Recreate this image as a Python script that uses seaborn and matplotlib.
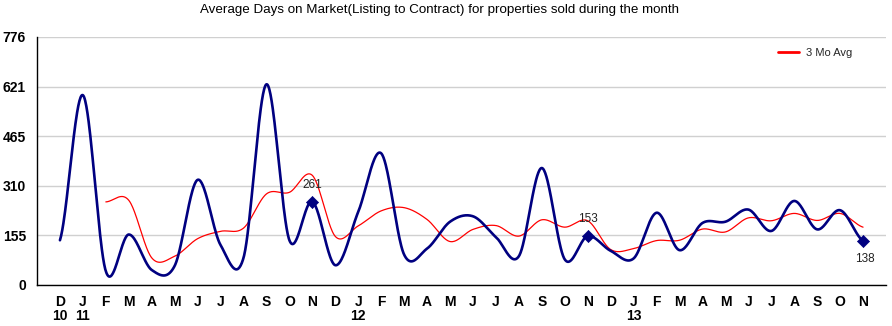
import numpy as np
import pandas as pd
import matplotlib
matplotlib.use("Agg")
import matplotlib.pyplot as plt
from matplotlib.lines import Line2D
import seaborn as sns

# ---- data (Dec 2010 .. Nov 2013) ----
month_labels = ["D", "J", "F", "M", "A", "M", "J", "J", "A", "S", "O", "N",
                "D", "J", "F", "M", "A", "M", "J", "J", "A", "S", "O", "N",
                "D", "J", "F", "M", "A", "M", "J", "J", "A", "S", "O", "N"]
year_labels = {0: "10", 1: "11", 13: "12", 25: "13"}

days_on_market = [140, 594, 43, 158, 47, 60, 329, 125, 85, 628, 140, 261,
                  62, 229, 412, 95, 114, 198, 215, 150, 90, 366, 80, 153,
                  107, 83, 226, 109, 194, 198, 236, 169, 263, 174, 234, 138]

# 3-month average, starting at the third month (Feb 2011)
avg_start = 2
avg_3mo = [260, 265, 85, 90, 145, 168, 178, 285, 290, 343,
           152, 185, 232, 242, 205, 136, 174, 186, 153, 204,
           181, 201, 111, 114, 139, 140, 175, 166, 210, 201,
           224, 202, 224, 181]

labeled_idx = [11, 23, 35]
y_ticks = [0, 155, 310, 465, 621, 776]

title = "Average Days on Market(Listing to Contract) for properties sold during the month"


def catmull_rom(xs, ys, n=40):
    xs = np.asarray(xs, float)
    ys = np.asarray(ys, float)
    p = np.concatenate([[ys[0]], ys, [ys[-1]]])
    out_x, out_y = [], []
    for i in range(len(ys) - 1):
        p0, p1, p2, p3 = p[i], p[i + 1], p[i + 2], p[i + 3]
        m1 = (p2 - p0) / 2.0
        m2 = (p3 - p1) / 2.0
        t = np.linspace(0, 1, n, endpoint=(i == len(ys) - 2))
        h00 = 2 * t**3 - 3 * t**2 + 1
        h10 = t**3 - 2 * t**2 + t
        h01 = -2 * t**3 + 3 * t**2
        h11 = t**3 - t**2
        out_y.append(h00 * p1 + h10 * m1 + h01 * p2 + h11 * m2)
        out_x.append(xs[i] + t * (xs[i + 1] - xs[i]))
    return np.concatenate(out_x), np.concatenate(out_y)


x_idx = np.arange(len(days_on_market))
bx, by = catmull_rom(x_idx, days_on_market)
rx, ry = catmull_rom(np.arange(avg_start, avg_start + len(avg_3mo)), avg_3mo)
df_blue = pd.DataFrame({"x": bx, "y": by})
df_red = pd.DataFrame({"x": rx, "y": ry})
df_pts = pd.DataFrame({"x": labeled_idx, "y": [days_on_market[i] for i in labeled_idx]})

sns.set_style("white")
plt.rcParams["font.family"] = ["Liberation Sans", "DejaVu Sans"]

W, H = 892, 326
fig = plt.figure(figsize=(W / 100, H / 100), dpi=100)
ax = fig.add_axes([37 / W, 1 - 285 / H, (886 - 37) / W, (285 - 37) / H])

sns.lineplot(data=df_red, x="x", y="y", ax=ax, color="#ff0000", linewidth=0.9,
             sort=False, estimator=None, zorder=3)
sns.lineplot(data=df_blue, x="x", y="y", ax=ax, color="#000080", linewidth=1.9,
             sort=False, estimator=None, zorder=4)
sns.scatterplot(data=df_pts, x="x", y="y", ax=ax, marker="D", s=38,
                color="#000080", edgecolor="#000080", zorder=5)

for i in labeled_idx:
    v = days_on_market[i]
    if i == labeled_idx[-1]:
        ax.annotate(str(v), (i, v), xytext=(1, -13), textcoords="offset points",
                    ha="center", va="center", fontsize=8.5, color="#222222")
    else:
        ax.annotate(str(v), (i, v), xytext=(0, 12), textcoords="offset points",
                    ha="center", va="center", fontsize=8.5, color="#222222")

ax.set_xlim(-1, 36)
ax.set_ylim(0, 776)
ax.set_yticks(y_ticks)
ax.set_yticklabels([str(t) for t in y_ticks])
ticks = list(range(-1, 37))
labels = []
for t in ticks:
    if 0 <= t < len(month_labels):
        lab = month_labels[t]
        if t in year_labels:
            lab += "\n" + year_labels[t]
        labels.append(lab)
    else:
        labels.append("")
ax.set_xticks(ticks)
ax.set_xticklabels(labels)
ax.set_xlabel("")
ax.set_ylabel("")

for lab in ax.get_xticklabels() + ax.get_yticklabels():
    lab.set_fontfamily(["Liberation Sans Narrow", "Liberation Sans", "DejaVu Sans"])
    lab.set_fontweight("bold")
    lab.set_fontsize(10)
    lab.set_color("#000000")
    lab.set_linespacing(1.05)

ax.tick_params(axis="x", direction="out", length=5, width=1, color="#000000", pad=2)
ax.tick_params(axis="y", direction="out", length=4, width=1, color="#c8c8c8", pad=4)

ax.grid(axis="y", color="#d0d0d0", linewidth=1)
ax.grid(axis="x", visible=False)
ax.set_axisbelow(True)
for s in ["top", "right"]:
    ax.spines[s].set_visible(False)
for s in ["left", "bottom"]:
    ax.spines[s].set_color("#000000")
    ax.spines[s].set_linewidth(1)

if ax.get_legend():
    ax.get_legend().remove()
handle = Line2D([], [], color="#ff0000", linewidth=2)
fig.legend([handle], ["3 Mo Avg"], loc="upper left",
           bbox_to_anchor=(778 / W, 1 - 48 / H), frameon=False, fontsize=8,
           handlelength=1.9, handletextpad=0.6, borderpad=0, borderaxespad=0)

fig.text(439 / W, 1 - 10 / H, title, ha="center", va="center", fontsize=9.6,
         color="#000000")

fig.savefig("out.png", dpi=100)
